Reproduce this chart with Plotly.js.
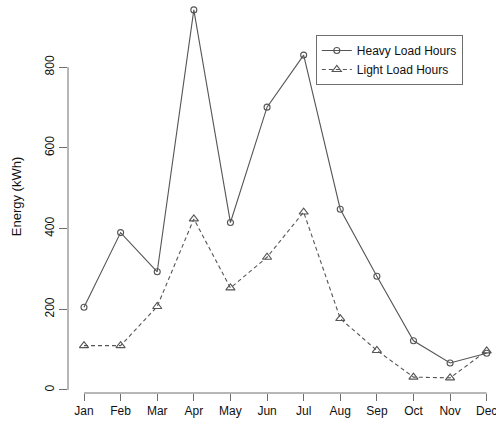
<!DOCTYPE html>
<html>
<head>
<meta charset="utf-8">
<script src="https://cdn.plot.ly/plotly-3.0.1.min.js"></script>
<style>html,body{margin:0;padding:0;background:#fff;overflow:hidden;}#chart{width:496px;height:427px;}</style>
</head>
<body>
<div id="chart"></div>
<script>
const months = ["Jan","Feb","Mar","Apr","May","Jun","Jul","Aug","Sep","Oct","Nov","Dec"];
const monthIndex = [1,2,3,4,5,6,7,8,9,10,11,12];
const heavyLoad = [205, 390, 293, 942, 415, 701, 830, 448, 282, 122, 67, 91];
const lightLoad = [110, 110, 207, 424, 253, 329, 441, 177, 98, 32, 30, 97];
const yTicks = [0, 200, 400, 600, 800];

const lineColor = '#555555';
const axisColor = '#6e6e6e';
const fontFam = '"Liberation Sans", Arial, sans-serif';

const traces = [
  {
    x: monthIndex, y: heavyLoad, name: 'Heavy Load Hours', type: 'scatter', mode: 'lines+markers',
    line: {color: lineColor, width: 1.1},
    marker: {symbol: 'circle-open', size: 6, color: lineColor, line: {width: 1.1, color: lineColor}},
    cliponaxis: false
  },
  {
    x: monthIndex, y: lightLoad, name: 'Light Load Hours', type: 'scatter', mode: 'lines+markers',
    line: {color: lineColor, width: 1.1, dash: '4px,3px'},
    marker: {symbol: 'triangle-up-open', size: 8, color: lineColor, line: {width: 1.1, color: lineColor}},
    cliponaxis: false
  }
];

const layout = {
  width: 496, height: 427,
  margin: {l: 68, r: 0, t: 0, b: 34},
  paper_bgcolor: '#ffffff', plot_bgcolor: '#ffffff',
  font: {family: fontFam, size: 12, color: '#111111'},
  showlegend: true,
  legend: {
    x: 0.579, y: 0.911, xanchor: 'left', yanchor: 'top',
    bordercolor: axisColor, borderwidth: 1, bgcolor: '#ffffff',
    font: {family: fontFam, size: 12, color: '#111111'},
    itemwidth: 30, tracegroupgap: 0
  },
  xaxis: {
    range: [0.563, 12.254], tickmode: 'array', tickvals: monthIndex, ticktext: months,
    showgrid: false, zeroline: false, showline: false,
    ticks: 'outside', ticklen: 7, tickcolor: axisColor, tickwidth: 1,
    ticklabeloverflow: 'allow',
    tickfont: {family: fontFam, size: 12, color: '#111111'}, fixedrange: true
  },
  yaxis: {
    range: [-7.45, 966.5], tickmode: 'array', tickvals: yTicks, ticktext: yTicks.map(String),
    showgrid: false, zeroline: false, showline: false,
    ticks: 'outside', ticklen: 8, tickcolor: axisColor, tickwidth: 1, tickangle: -90,
    tickfont: {family: fontFam, size: 12, color: '#111111'},
    title: {text: 'Energy (kWh)', font: {family: fontFam, size: 13, color: '#111111'}, standoff: 18},
    automargin: false, fixedrange: true
  },
  shapes: [
    {type: 'line', xref: 'paper', yref: 'y', x0: 0, x1: 0, y0: yTicks[0], y1: yTicks[yTicks.length-1], line: {color: axisColor, width: 1}},
    {type: 'line', xref: 'x', yref: 'paper', x0: monthIndex[0], x1: monthIndex[monthIndex.length-1], y0: 0, y1: 0, line: {color: axisColor, width: 1}}
  ]
};

Plotly.newPlot('chart', traces, layout, {displayModeBar: false, staticPlot: true});
</script>
</body>
</html>
